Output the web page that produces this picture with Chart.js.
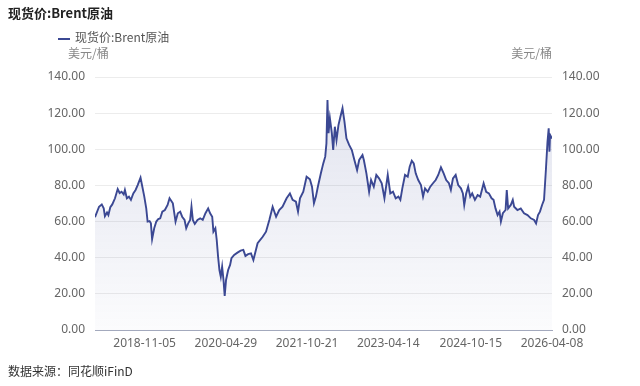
<!DOCTYPE html>
<html>
<head>
<meta charset="utf-8">
<script src="https://cdn.jsdelivr.net/npm/chart.js@4.4.0/dist/chart.umd.min.js"></script>
<style>
  body { margin: 0; background: #fff; font-family: "Noto Sans CJK SC", "Noto Sans", sans-serif; }
  #wrap { position: relative; width: 640px; height: 386px; }
  #chartBox { position: absolute; left: 0; top: 0; width: 640px; height: 386px; }
  .title { position: absolute; left: 8px; top: 3px; font-size: 13px; font-weight: bold; color: #222; }
  .legend { position: absolute; left: 58px; top: 28px; font-size: 12px; color: #555; }
  .legend i { display: inline-block; width: 12px; height: 2px; background: #3b4893; vertical-align: middle; margin-right: 5px; }
  .source { position: absolute; left: 8px; top: 362px; font-size: 12px; color: #333; }
</style>
</head>
<body>
<div id="wrap">
  <div id="chartBox"><canvas id="brentChart"></canvas></div>
  <div class="title">现货价:Brent原油</div>
  <div class="legend"><i></i>现货价:Brent原油</div>
  <div class="source">数据来源：同花顺iFinD</div>
</div>
<script>
const dates = [
  '2017-12-10','2018-01-06','2018-01-24','2018-02-06','2018-02-14','2018-02-28','2018-03-09','2018-03-22','2018-04-04','2018-04-22',
  '2018-05-10','2018-05-23','2018-06-05','2018-06-19','2018-06-27','2018-07-10','2018-07-24','2018-08-06','2018-08-22','2018-09-06',
  '2018-09-20','2018-10-09','2018-10-21','2018-11-03','2018-11-16','2018-11-25','2018-12-08','2018-12-17','2018-12-25','2019-01-08',
  '2019-01-22','2019-02-04','2019-02-17','2019-03-03','2019-03-20','2019-04-07','2019-04-20','2019-05-12','2019-05-30','2019-06-14',
  '2019-06-30','2019-07-13','2019-07-29','2019-08-09','2019-08-22','2019-09-04','2019-09-13','2019-09-22','2019-10-05','2019-10-23',
  '2019-11-10','2019-11-27','2019-12-15','2020-01-02','2020-01-15','2020-01-29','2020-02-06','2020-02-19','2020-02-28','2020-03-08',
  '2020-03-17','2020-03-26','2020-04-04','2020-04-13','2020-04-21','2020-04-30','2020-05-14','2020-05-27','2020-06-05','2020-06-23',
  '2020-07-15','2020-08-05','2020-08-23','2020-09-06','2020-09-24','2020-10-13','2020-10-29','2020-11-26','2020-12-30','2021-01-21',
  '2021-02-12','2021-03-06','2021-03-29','2021-04-19','2021-05-11','2021-06-07','2021-06-29','2021-07-17','2021-08-08','2021-08-22',
  '2021-09-04','2021-09-26','2021-10-18','2021-11-09','2021-11-23','2021-12-06','2021-12-19','2022-01-01','2022-01-21','2022-02-06',
  '2022-02-19','2022-02-27','2022-03-06','2022-03-13','2022-03-22','2022-04-04','2022-04-13','2022-04-24','2022-05-05','2022-05-18',
  '2022-05-31','2022-06-14','2022-06-27','2022-07-10','2022-07-28','2022-08-15','2022-09-01','2022-09-19','2022-10-03','2022-10-25',
  '2022-11-03','2022-11-20','2022-12-08','2022-12-21','2023-01-08','2023-01-25','2023-02-12','2023-03-02','2023-03-20','2023-04-11',
  '2023-04-28','2023-05-16','2023-06-03','2023-06-21','2023-07-04','2023-07-17','2023-08-04','2023-08-22','2023-09-04','2023-09-18',
  '2023-10-01','2023-10-14','2023-10-31','2023-11-18','2023-12-02','2023-12-15','2024-01-02','2024-01-19','2024-02-06','2024-02-24',
  '2024-03-12','2024-03-30','2024-04-17','2024-05-04','2024-05-22','2024-06-04','2024-06-18','2024-07-06','2024-07-23','2024-08-10',
  '2024-08-23','2024-09-01','2024-09-14','2024-09-27','2024-10-11','2024-10-24','2024-11-11','2024-11-29','2024-12-16','2025-01-08',
  '2025-01-25','2025-02-12','2025-03-02','2025-03-15','2025-03-28','2025-04-11','2025-04-24','2025-05-03','2025-05-16','2025-06-03',
  '2025-06-11','2025-06-20','2025-07-08','2025-07-21','2025-07-30','2025-08-21','2025-09-12','2025-10-04','2025-10-27','2025-11-18',
  '2025-12-10','2025-12-23','2026-01-05','2026-01-18','2026-02-01','2026-02-14','2026-02-27','2026-03-09','2026-03-17','2026-03-22',
  '2026-03-26','2026-04-08'
];

// 美元/桶
const brentPrice = [
  62.4,68.2,69.5,67.3,63.0,65.0,63.6,68.0,69.5,72.9,
  78.0,75.8,76.5,75.0,77.5,72.9,73.8,72.0,75.6,77.5,
  80.2,84.3,79.3,73.8,67.3,60.0,60.3,59.0,50.3,56.3,
  60.0,61.4,61.8,65.5,66.4,69.2,72.9,70.1,60.0,64.6,
  65.5,62.7,60.9,56.3,59.0,60.9,68.2,60.9,58.7,60.9,
  61.8,60.9,64.6,67.3,64.6,62.7,54.4,56.3,49.8,40.6,
  33.2,29.5,35.0,27.7,18.8,27.7,33.2,36.0,39.7,41.5,
  42.8,43.9,44.3,41.0,42.0,42.4,38.7,48.0,51.6,54.4,
  60.9,68.2,62.7,66.4,68.2,72.9,75.6,72.0,71.0,65.5,
  72.9,76.5,84.8,83.4,79.3,70.1,73.8,79.3,86.7,92.2,
  95.9,103.3,127.3,108.9,117.2,108.9,99.6,112.5,105.1,113.4,
  118.0,122.7,115.3,106.1,102.4,99.6,94.1,88.5,94.1,96.8,
  94.1,86.7,76.5,83.0,79.3,85.8,83.9,81.2,72.9,85.8,
  75.6,76.5,72.9,73.8,72.0,78.4,85.8,84.8,90.4,93.7,
  92.2,86.7,83.0,80.2,73.8,78.4,76.5,79.3,81.2,83.0,
  85.8,90.0,86.7,83.0,81.2,77.5,83.9,85.8,80.2,78.4,
  75.6,69.2,75.6,79.3,73.8,75.6,72.0,74.7,73.8,81.2,
  76.5,75.6,72.9,72.0,67.3,63.6,65.5,60.0,64.6,66.4,
  77.5,67.3,69.2,72.0,68.2,66.4,67.3,64.6,63.6,61.8,
  60.9,59.0,63.6,65.5,69.2,72.0,89.5,104.2,111.6,98.7,
  108.0,106.0
];

const xTickLabels = ['2018-11-05', '2020-04-29', '2021-10-21', '2023-04-14', '2024-10-15', '2026-04-08'];
const yTicks = [0, 20, 40, 60, 80, 100, 120, 140];
const unitLabel = '美元/桶';

const lineColor = '#3b4893';
const tickFont = { family: '"Noto Sans", "Noto Sans CJK SC", sans-serif', size: 12 };

const points = dates.map((d, i) => ({ x: Date.parse(d), y: brentPrice[i] }));

// 左右两侧的单位文字
const unitPlugin = {
  id: 'units',
  afterDraw(chart) {
    const ctx = chart.ctx;
    const area = chart.chartArea;
    ctx.save();
    ctx.font = '12px "Noto Sans CJK SC", sans-serif';
    ctx.fillStyle = '#888';
    ctx.textBaseline = 'middle';
    ctx.textAlign = 'left';
    ctx.fillText(unitLabel, area.left - 27, 53);
    ctx.textAlign = 'right';
    ctx.fillText(unitLabel, area.right, 53);
    ctx.restore();
  }
};

function yAxis(pos, withGrid) {
  return {
    position: pos,
    min: 0,
    max: 140,
    afterBuildTicks: axis => { axis.ticks = yTicks.map(v => ({ value: v })); },
    afterFit: axis => { axis.width = pos === 'left' ? 95 : 88; },
    ticks: {
      color: '#666',
      font: tickFont,
      padding: 10,
      callback: v => v.toFixed(2)
    },
    grid: { display: withGrid, color: '#ececec', drawTicks: false },
    border: { display: false }
  };
}

const ctx = document.getElementById('brentChart').getContext('2d');
new Chart(ctx, {
  type: 'line',
  data: {
    datasets: [{
      label: '现货价:Brent原油',
      data: points,
      borderColor: lineColor,
      borderWidth: 1.9,
      pointRadius: 0,
      tension: 0,
      fill: 'origin',
      backgroundColor: c => {
        const area = c.chart.chartArea;
        if (!area) return 'rgba(59,72,147,0.08)';
        const g = c.chart.ctx.createLinearGradient(0, area.top, 0, area.bottom);
        g.addColorStop(0, 'rgba(59,72,147,0.16)');
        g.addColorStop(1, 'rgba(59,72,147,0.02)');
        return g;
      }
    }]
  },
  options: {
    responsive: true,
    maintainAspectRatio: false,
    animation: false,
    layout: { padding: { top: 77, left: 0, right: 0, bottom: 0 } },
    plugins: {
      legend: { display: false },
      tooltip: { enabled: false }
    },
    scales: {
      x: {
        type: 'linear',
        min: Date.parse(dates[0]),
        max: Date.parse(dates[dates.length - 1]),
        afterBuildTicks: axis => { axis.ticks = xTickLabels.map(s => ({ value: Date.parse(s) })); },
        afterFit: axis => { axis.height = 56; },
        ticks: {
          color: '#666',
          font: tickFont,
          padding: 6,
          autoSkip: false,
          maxRotation: 0,
          callback: v => new Date(v).toISOString().slice(0, 10)
        },
        grid: { display: false, drawTicks: false },
        border: { display: true, color: '#a3a9bd', width: 1 }
      },
      y: yAxis('left', true),
      y2: yAxis('right', false)
    }
  },
  plugins: [unitPlugin]
});
</script>
</body>
</html>
